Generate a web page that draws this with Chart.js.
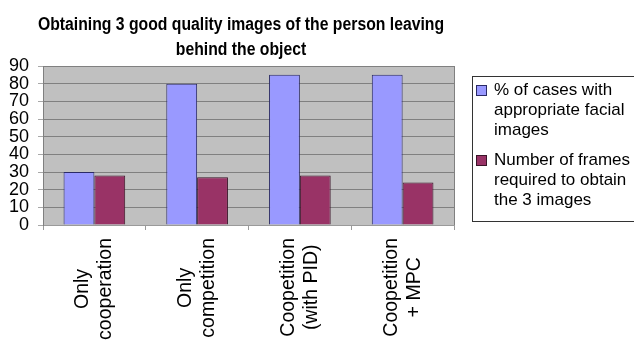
<!DOCTYPE html>
<html>
<head>
<meta charset="utf-8">
<script src="https://cdn.jsdelivr.net/npm/chart.js@4.4.1/dist/chart.umd.min.js"></script>
<style>
  html, body { margin: 0; padding: 0; background: #ffffff; }
  #wrap { width: 634px; height: 340px; }
</style>
</head>
<body>
<div id="wrap"><canvas id="c" width="634" height="340"></canvas></div>
<script>
// Chart text
const titleLines = ['Obtaining 3 good quality images of the person leaving', 'behind the object'];
const categories = [
  ['Only', 'cooperation'],
  ['Only', 'competition'],
  ['Coopetition', '(with PID)'],
  ['Coopetition', '+ MPC']
];
const seriesNames = [
  ['% of cases with', 'appropriate facial', 'images'],
  ['Number of frames', 'required to obtain', 'the 3 images']
];

// Series values
const pctFacialImages = [30, 80, 85, 85];
const framesRequired = [28, 27, 28, 24];

// Value axis
const yMin = 0;
const yMax = 90;
const yStep = 10;

const FONT = "'Liberation Sans', Arial, sans-serif";
const seriesFill = ['#9999ff', '#993366'];
const seriesEdge = ['#2a2a66', '#3a1428'];

// Grey plot background and right-hand frame line
const plotBackground = {
  id: 'plotBackground',
  beforeDraw(chart) {
    const { ctx, chartArea: a } = chart;
    ctx.save();
    ctx.fillStyle = '#c0c0c0';
    ctx.fillRect(a.left, a.top, a.right - a.left, a.bottom - a.top);
    ctx.strokeStyle = '#808080';
    ctx.lineWidth = 1;
    ctx.beginPath();
    ctx.moveTo(Math.round(a.right) + 0.5, a.top);
    ctx.lineTo(Math.round(a.right) + 0.5, a.bottom);
    ctx.stroke();
    ctx.restore();
  }
};

// Two-line bold title over the plot, set slightly condensed
const titleBlock = {
  id: 'titleBlock',
  afterDraw(chart) {
    const { ctx } = chart;
    const squeeze = 0.875;
    ctx.save();
    ctx.fillStyle = '#000';
    ctx.font = 'bold 18px ' + FONT;
    ctx.textAlign = 'center';
    ctx.textBaseline = 'middle';
    titleLines.forEach((t, i) => {
      ctx.save();
      ctx.translate(241, 25 + i * 25);
      ctx.scale(squeeze, 1);
      ctx.fillText(t, 0, 0);
      ctx.restore();
    });
    ctx.restore();
  }
};

// Vertical, centred, multi-line category labels under each group
const categoryLabels = {
  id: 'categoryLabels',
  afterDraw(chart) {
    const { ctx, chartArea: a } = chart;
    const xs = chart.scales.x;
    const lineGap = 23;
    ctx.save();
    ctx.fillStyle = '#000';
    ctx.font = '19.5px ' + FONT;
    ctx.textAlign = 'center';
    ctx.textBaseline = 'middle';
    categories.forEach((lines, i) => {
      const xc = xs.getPixelForValue(i);
      const longest = Math.max(...lines.map(l => ctx.measureText(l).width));
      const yc = a.bottom + 13 + longest / 2;
      lines.forEach((l, j) => {
        ctx.save();
        ctx.translate(xc + (j - (lines.length - 1) / 2) * lineGap, yc);
        ctx.rotate(-Math.PI / 2);
        ctx.fillText(l, 0, 0);
        ctx.restore();
      });
    });
    ctx.restore();
  }
};

// Boxed legend with wrapped series names
const boxedLegend = {
  id: 'boxedLegend',
  afterDraw(chart) {
    const { ctx } = chart;
    const box = { left: 472.5, top: 76.5, right: 650, bottom: 221.5 };
    ctx.save();
    ctx.strokeStyle = '#333';
    ctx.lineWidth = 1;
    ctx.strokeRect(box.left, box.top, box.right - box.left, box.bottom - box.top);
    ctx.font = '17px ' + FONT;
    ctx.textBaseline = 'middle';
    ctx.textAlign = 'left';
    const lineGap = 20;
    const itemStart = [90, 160];
    seriesNames.forEach((lines, i) => {
      const y0 = itemStart[i];
      ctx.fillStyle = seriesFill[i];
      ctx.fillRect(476, y0 - 5, 11, 11);
      ctx.strokeStyle = seriesEdge[i];
      ctx.strokeRect(476.5, y0 - 4.5, 10, 10);
      ctx.fillStyle = '#000';
      lines.forEach((l, j) => ctx.fillText(l, 494, y0 + j * lineGap));
    });
    ctx.restore();
  }
};

new Chart(document.getElementById('c'), {
  type: 'bar',
  data: {
    labels: categories.map(c => c.join(' ')),
    datasets: [
      {
        label: seriesNames[0].join(' '),
        data: pctFacialImages,
        backgroundColor: seriesFill[0],
        borderColor: seriesEdge[0],
        borderWidth: 1,
        categoryPercentage: 0.6,
        barPercentage: 1.0
      },
      {
        label: seriesNames[1].join(' '),
        data: framesRequired,
        backgroundColor: seriesFill[1],
        borderColor: seriesEdge[1],
        borderWidth: 1,
        categoryPercentage: 0.6,
        barPercentage: 1.0
      }
    ]
  },
  options: {
    responsive: false,
    animation: false,
    devicePixelRatio: 1,
    layout: { padding: { top: 66, right: 180, left: 0, bottom: 0 } },
    plugins: {
      legend: { display: false },
      title: { display: false },
      tooltip: { enabled: false }
    },
    scales: {
      x: {
        offset: true,
        grid: {
          offset: true,
          drawOnChartArea: false,
          drawTicks: true,
          tickLength: 5,
          color: '#9a9a9a'
        },
        border: { display: true, color: '#9a9a9a' },
        ticks: { display: false },
        afterFit(scale) { scale.height = 115; }
      },
      y: {
        min: yMin,
        max: yMax,
        ticks: {
          stepSize: yStep,
          autoSkip: false,
          color: '#000',
          font: { family: FONT, size: 18 },
          padding: 9
        },
        grid: {
          color: '#808080',
          tickLength: 5,
          tickColor: '#a8a8a8'
        },
        border: { display: true, color: '#808080' },
        afterFit(scale) { scale.width = 43; }
      }
    }
  },
  plugins: [plotBackground, titleBlock, categoryLabels, boxedLegend]
});
</script>
</body>
</html>
